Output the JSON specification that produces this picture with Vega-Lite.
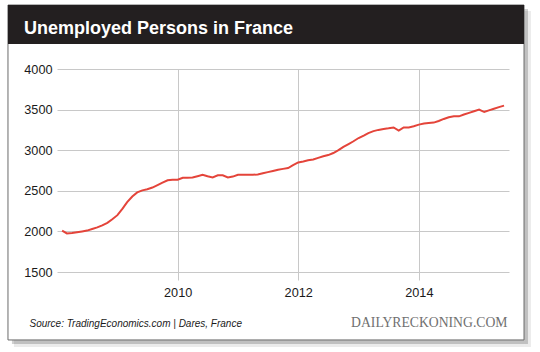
{
  "$schema": "https://vega.github.io/schema/vega-lite/v6.json",
  "width": 452,
  "height": 203,
  "autosize": {"type": "none"},
  "padding": {"left": 57, "top": 69, "right": 31, "bottom": 80},
  "background": "white",
  "config": {"view": {"stroke": null}, "font": "Liberation Sans"},
  "title": {
    "text": "Unemployed Persons in France",
    "anchor": "start",
    "frame": "group",
    "font": "Liberation Sans",
    "fontSize": 18,
    "fontWeight": "bold",
    "color": "white",
    "baseline": "alphabetic",
    "offset": -47,
    "dx": -33,
    "zindex": 1
  },
  "layer": [
    {
      "data": {"values": [{}]},
      "mark": {"type": "rect", "fill": "black", "fillOpacity": 0.08},
      "encoding": {
        "x": {"datum": {"year": 2015, "month": 9, "date": 30, "utc": true}, "type": "temporal", "axis": null},
        "x2": {"datum": {"year": 2015, "month": 11, "date": 11, "utc": true}},
        "y": {"datum": 4714, "type": "quantitative", "axis": null},
        "y2": {"datum": 576}
      }
    },
    {
      "data": {"values": [{}]},
      "mark": {"type": "rect", "fill": "black", "fillOpacity": 0.18},
      "encoding": {
        "x": {"datum": {"year": 2015, "month": 9, "date": 30, "utc": true}, "type": "temporal", "axis": null},
        "x2": {"datum": {"year": 2015, "month": 10, "date": 24, "utc": true}},
        "y": {"datum": 4739, "type": "quantitative", "axis": null},
        "y2": {"datum": 613}
      }
    },
    {
      "data": {"values": [{}]},
      "mark": {"type": "rect", "fill": "black", "fillOpacity": 0.08},
      "encoding": {
        "x": {"datum": {"year": 2007, "month": 4, "date": 15, "utc": true}, "type": "temporal", "axis": null},
        "x2": {"datum": {"year": 2015, "month": 9, "date": 30, "utc": true}},
        "y": {"datum": 663, "type": "quantitative", "axis": null},
        "y2": {"datum": 576}
      }
    },
    {
      "data": {"values": [{}]},
      "mark": {"type": "rect", "fill": "black", "fillOpacity": 0.18},
      "encoding": {
        "x": {"datum": {"year": 2007, "month": 4, "date": 3, "utc": true}, "type": "temporal", "axis": null},
        "x2": {"datum": {"year": 2015, "month": 9, "date": 30, "utc": true}},
        "y": {"datum": 663, "type": "quantitative", "axis": null},
        "y2": {"datum": 613}
      }
    },
    {
      "data": {"values": [{}]},
      "mark": {"type": "rect", "filled": false, "stroke": "#6a6a6a", "strokeWidth": 1},
      "encoding": {
        "x": {
          "datum": {"year": 2007, "month": 3, "date": 10, "utc": true},
          "type": "temporal",
          "axis": {
            "orient": "bottom",
            "title": "DAILYRECKONING.COM",
            "labels": false,
            "ticks": false,
            "domain": false,
            "grid": false,
            "titleFont": "Liberation Serif",
            "titleFontSize": 13.7,
            "titleFontWeight": "normal",
            "titleColor": "#707070",
            "titleX": 450,
            "titleY": 54,
            "titleAlign": "right",
            "titleBaseline": "alphabetic"
          }
        },
        "x2": {"datum": {"year": 2015, "month": 9, "date": 30, "utc": true}},
        "y": {"datum": 4788, "type": "quantitative", "axis": null},
        "y2": {"datum": 663}
      }
    },
    {
      "data": {"values": [{}]},
      "mark": {"type": "rect", "fill": "#231f20"},
      "encoding": {
        "x": {"datum": {"year": 2007, "month": 3, "date": 10, "utc": true}, "type": "temporal", "axis": null},
        "x2": {"datum": {"year": 2015, "month": 9, "date": 30, "utc": true}},
        "y": {"datum": 4788, "type": "quantitative", "axis": null},
        "y2": {"datum": 4308}
      }
    },
    {
      "data": {
        "values": [
          {"date": "2008-02-01", "unemployed": 2010},
          {"date": "2008-03-01", "unemployed": 1975},
          {"date": "2008-04-01", "unemployed": 1980},
          {"date": "2008-05-01", "unemployed": 1990},
          {"date": "2008-06-01", "unemployed": 2000},
          {"date": "2008-07-01", "unemployed": 2010},
          {"date": "2008-08-01", "unemployed": 2030},
          {"date": "2008-09-01", "unemployed": 2050},
          {"date": "2008-10-01", "unemployed": 2075},
          {"date": "2008-11-01", "unemployed": 2105},
          {"date": "2008-12-01", "unemployed": 2150},
          {"date": "2009-01-01", "unemployed": 2200},
          {"date": "2009-02-01", "unemployed": 2280},
          {"date": "2009-03-01", "unemployed": 2360},
          {"date": "2009-04-01", "unemployed": 2430},
          {"date": "2009-05-01", "unemployed": 2480},
          {"date": "2009-06-01", "unemployed": 2505},
          {"date": "2009-07-01", "unemployed": 2520},
          {"date": "2009-08-01", "unemployed": 2540},
          {"date": "2009-09-01", "unemployed": 2570},
          {"date": "2009-10-01", "unemployed": 2600},
          {"date": "2009-11-01", "unemployed": 2630},
          {"date": "2009-12-01", "unemployed": 2635},
          {"date": "2010-01-01", "unemployed": 2636},
          {"date": "2010-02-01", "unemployed": 2660},
          {"date": "2010-03-01", "unemployed": 2662},
          {"date": "2010-04-01", "unemployed": 2664},
          {"date": "2010-05-01", "unemployed": 2680},
          {"date": "2010-06-01", "unemployed": 2698},
          {"date": "2010-07-01", "unemployed": 2680},
          {"date": "2010-08-01", "unemployed": 2664},
          {"date": "2010-09-01", "unemployed": 2690},
          {"date": "2010-10-01", "unemployed": 2690},
          {"date": "2010-11-01", "unemployed": 2664},
          {"date": "2010-12-01", "unemployed": 2675},
          {"date": "2011-01-01", "unemployed": 2698},
          {"date": "2011-02-01", "unemployed": 2698},
          {"date": "2011-03-01", "unemployed": 2698},
          {"date": "2011-04-01", "unemployed": 2698},
          {"date": "2011-05-01", "unemployed": 2700},
          {"date": "2011-06-01", "unemployed": 2715},
          {"date": "2011-07-01", "unemployed": 2730},
          {"date": "2011-08-01", "unemployed": 2745},
          {"date": "2011-09-01", "unemployed": 2760},
          {"date": "2011-10-01", "unemployed": 2770},
          {"date": "2011-11-01", "unemployed": 2780},
          {"date": "2011-12-01", "unemployed": 2815},
          {"date": "2012-01-01", "unemployed": 2849},
          {"date": "2012-02-01", "unemployed": 2860},
          {"date": "2012-03-01", "unemployed": 2875},
          {"date": "2012-04-01", "unemployed": 2885},
          {"date": "2012-05-01", "unemployed": 2905},
          {"date": "2012-06-01", "unemployed": 2925},
          {"date": "2012-07-01", "unemployed": 2940},
          {"date": "2012-08-01", "unemployed": 2965},
          {"date": "2012-09-01", "unemployed": 3000},
          {"date": "2012-10-01", "unemployed": 3040},
          {"date": "2012-11-01", "unemployed": 3075},
          {"date": "2012-12-01", "unemployed": 3110},
          {"date": "2013-01-01", "unemployed": 3150},
          {"date": "2013-02-01", "unemployed": 3180},
          {"date": "2013-03-01", "unemployed": 3210},
          {"date": "2013-04-01", "unemployed": 3235},
          {"date": "2013-05-01", "unemployed": 3250},
          {"date": "2013-06-01", "unemployed": 3262},
          {"date": "2013-07-01", "unemployed": 3270},
          {"date": "2013-08-01", "unemployed": 3280},
          {"date": "2013-09-01", "unemployed": 3241},
          {"date": "2013-10-01", "unemployed": 3281},
          {"date": "2013-11-01", "unemployed": 3281},
          {"date": "2013-12-01", "unemployed": 3295},
          {"date": "2014-01-01", "unemployed": 3315},
          {"date": "2014-02-01", "unemployed": 3330},
          {"date": "2014-03-01", "unemployed": 3336},
          {"date": "2014-04-01", "unemployed": 3340},
          {"date": "2014-05-01", "unemployed": 3360},
          {"date": "2014-06-01", "unemployed": 3385},
          {"date": "2014-07-01", "unemployed": 3405},
          {"date": "2014-08-01", "unemployed": 3417},
          {"date": "2014-09-01", "unemployed": 3417},
          {"date": "2014-10-01", "unemployed": 3440},
          {"date": "2014-11-01", "unemployed": 3460},
          {"date": "2014-12-01", "unemployed": 3480},
          {"date": "2015-01-01", "unemployed": 3500},
          {"date": "2015-02-01", "unemployed": 3470},
          {"date": "2015-03-01", "unemployed": 3490},
          {"date": "2015-04-01", "unemployed": 3510},
          {"date": "2015-05-01", "unemployed": 3530},
          {"date": "2015-06-01", "unemployed": 3549}
        ]
      },
      "mark": {"type": "line", "color": "#e4443a", "strokeWidth": 2},
      "encoding": {
        "x": {
          "field": "date",
          "type": "temporal",
          "scale": {
            "type": "utc",
            "domain": [
              {"year": 2008, "month": 1, "date": 1, "utc": true},
              {"year": 2015, "month": 7, "date": 1, "utc": true}
            ]
          },
          "axis": {
            "orient": "bottom",
            "values": [
              {"year": 2010, "utc": true},
              {"year": 2012, "utc": true},
              {"year": 2014, "utc": true}
            ],
            "format": "%Y",
            "grid": true,
            "gridColor": "#c8c8c8",
            "gridWidth": 1,
            "domain": false,
            "ticks": true,
            "tickSize": 8,
            "tickColor": "#c8c8c8",
            "labelFont": "Liberation Sans",
            "labelFontSize": 12.7,
            "labelColor": "#1a1a1a",
            "labelPadding": 6,
            "labelFlush": false,
            "title": "Source: TradingEconomics.com | Dares, France",
            "titleFont": "Liberation Sans",
            "titleFontSize": 10,
            "titleFontStyle": "italic",
            "titleFontWeight": "normal",
            "titleColor": "#1a1a1a",
            "titleX": -28,
            "titleY": 54,
            "titleAlign": "left",
            "titleAnchor": "start",
            "titleBaseline": "alphabetic"
          }
        },
        "y": {
          "field": "unemployed",
          "type": "quantitative",
          "scale": {"domain": [1500, 4000], "nice": false, "zero": false},
          "axis": {
            "orient": "left",
            "values": [1500, 2000, 2500, 3000, 3500, 4000],
            "format": "d",
            "grid": true,
            "gridColor": "#c8c8c8",
            "gridWidth": 1,
            "domain": false,
            "ticks": false,
            "labelPadding": 5,
            "labelFont": "Liberation Sans",
            "labelFontSize": 12.7,
            "labelColor": "#1a1a1a",
            "title": null
          }
        }
      }
    }
  ],
  "resolve": {"axis": {"x": "independent", "y": "independent"}}
}
